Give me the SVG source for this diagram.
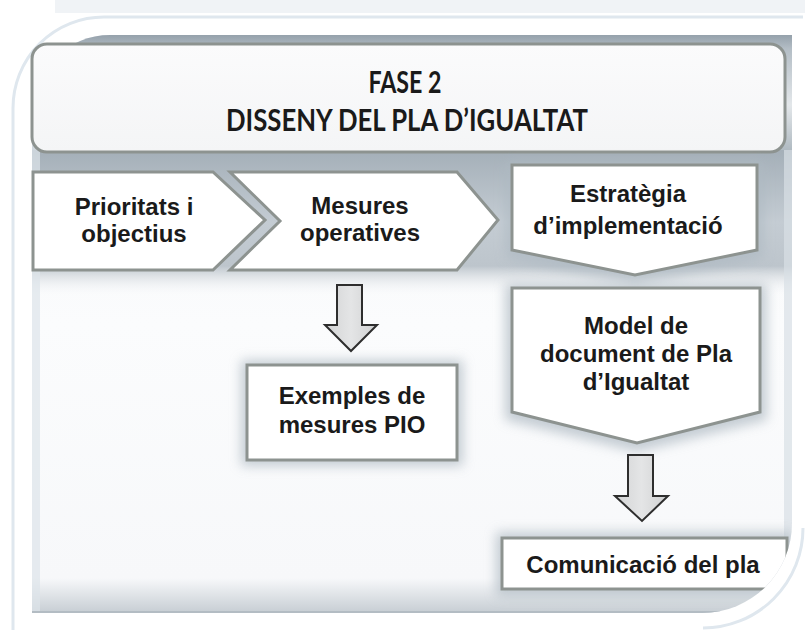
<svg xmlns="http://www.w3.org/2000/svg" width="805" height="630" viewBox="0 0 805 630">
<defs>
<style>
.box{fill:#ffffff;stroke:#8d9390;stroke-width:3;stroke-linejoin:miter}
.sh{fill:#aeb9c2;opacity:0.7;filter:url(#blur)}
.lbl{font-family:"Liberation Sans",Arial,sans-serif;font-weight:bold;font-size:24px;fill:#1a1a1a;text-anchor:middle}
.ttl{font-family:Lato,"Open Sans",sans-serif;font-weight:bold;font-size:30px;fill:#1a1a1a;text-anchor:middle}
.arr{fill:url(#arrG);stroke:#2e2e2e;stroke-width:2;stroke-linejoin:miter}
</style>
<filter id="blur" x="-20%" y="-20%" width="140%" height="140%"><feGaussianBlur stdDeviation="6"/></filter>
<clipPath id="panel"><path d="M32,613 L32,113 A78,78 0 0 1 110,35 L792,35 L792,523 A90,90 0 0 1 702,613 Z"/></clipPath>
<linearGradient id="panelG" x1="0" y1="0" x2="0" y2="1">
<stop offset="0" stop-color="#f3f5f7"/><stop offset="0.5" stop-color="#fbfcfd"/><stop offset="0.94" stop-color="#f7f8fa"/><stop offset="1" stop-color="#c6cdd3"/>
</linearGradient>
<linearGradient id="bandG" x1="0" y1="0" x2="0" y2="1">
<stop offset="0" stop-color="#95a1ab"/><stop offset="0.1" stop-color="#b4bec6"/><stop offset="0.5" stop-color="#e3e7ea"/><stop offset="0.86" stop-color="#aab5bd"/><stop offset="1" stop-color="#a3aeb7"/>
</linearGradient>
<linearGradient id="rowG" x1="0" y1="0" x2="0" y2="1">
<stop offset="0" stop-color="#a4afb8"/><stop offset="0.5" stop-color="#c4ccd3"/><stop offset="0.8" stop-color="#bdc5cc"/><stop offset="1" stop-color="#f2f4f6" stop-opacity="0"/>
</linearGradient>
<linearGradient id="bannerG" x1="0" y1="0" x2="0" y2="1">
<stop offset="0" stop-color="#fbfbfc"/><stop offset="1" stop-color="#f4f5f6"/>
</linearGradient>
<linearGradient id="arrG" x1="0" y1="0" x2="1" y2="0">
<stop offset="0" stop-color="#d2d3d4"/><stop offset="0.5" stop-color="#e4e5e6"/><stop offset="1" stop-color="#cfd0d1"/>
</linearGradient>
</defs>

<rect x="0" y="0" width="805" height="630" fill="#ffffff"/>
<rect x="55" y="0" width="750" height="13" fill="#f0f3f6"/>
<path d="M13,630 L13,108 A91,91 0 0 1 104,17 L803,17 M803,528 A100,100 0 0 1 703,628" fill="none" stroke="#dfe7ee" stroke-width="3"/>

<g id="background" clip-path="url(#panel)">
<rect x="32" y="35" width="760" height="578" fill="url(#panelG)"/>
<rect x="32" y="35" width="760" height="140" fill="url(#bandG)"/>
<rect x="32" y="150" width="760" height="145" fill="url(#rowG)"/>
<rect x="32" y="35" width="8" height="578" fill="#dde4ea" opacity="0.7"/>
<rect x="784" y="150" width="8" height="400" fill="#d8dfe5" opacity="0.7"/>
<line x1="32" y1="612" x2="792" y2="612" stroke="#b3bcc3" stroke-width="2"/>
</g>

<g id="title">
<rect x="32" y="44" width="753" height="108" rx="15" class="box" style="fill:url(#bannerG)"/>
<text class="ttl" x="405" y="93" textLength="73" lengthAdjust="spacingAndGlyphs">FASE 2</text>
<text class="ttl" x="407" y="131" textLength="362" lengthAdjust="spacingAndGlyphs">DISSENY DEL PLA D’IGUALTAT</text>
</g>

<g id="prioritats">
<polygon class="box" points="33,172 213,172 265,220 213,270 33,270"/>
<text class="lbl" x="134" y="215">Prioritats i</text>
<text class="lbl" x="134" y="242">objectius</text>
</g>

<g id="mesures">
<polygon class="box" points="230,172 457,172 498,220 457,270 230,270 280,221"/>
<text class="lbl" x="360" y="214">Mesures</text>
<text class="lbl" x="360" y="241">operatives</text>
</g>

<g id="estrategia">
<polygon class="sh" points="506,162 763,162 763,258 635,284 506,258"/>
<polygon class="box" points="512,165 757,165 757,250 635,275 512,250"/>
<text class="lbl" x="628" y="202">Estratègia</text>
<text class="lbl" x="628" y="234">d’implementació</text>
</g>

<g id="model">
<polygon class="sh" points="505,284 767,284 767,420 637,452 505,420"/>
<polygon class="box" points="512,288 760,288 760,412 637,443 512,412"/>
<text class="lbl" x="636" y="334">Model de</text>
<text class="lbl" x="636" y="362">document de Pla</text>
<text class="lbl" x="636" y="390">d’Igualtat</text>
</g>

<g id="exemples">
<rect class="sh" x="241" y="360" width="222" height="106"/>
<rect class="box" x="247" y="365" width="210" height="95"/>
<text class="lbl" x="352" y="404">Exemples de</text>
<text class="lbl" x="352" y="433">mesures PIO</text>
</g>

<g id="comunicacio" clip-path="url(#panel)">
<rect class="sh" x="496" y="532" width="297" height="64"/>
<rect class="box" x="502" y="538" width="285" height="51"/>
<text class="lbl" x="643" y="573">Comunicació del pla</text>
</g>

<g id="connectors">
<polygon class="arr" points="337,285 362,285 362,325 377,325 351,351 325,325 337,325"/>
<polygon class="arr" points="628,455 653,455 653,496 668,496 642,521 615,496 628,496"/>
</g>
</svg>
